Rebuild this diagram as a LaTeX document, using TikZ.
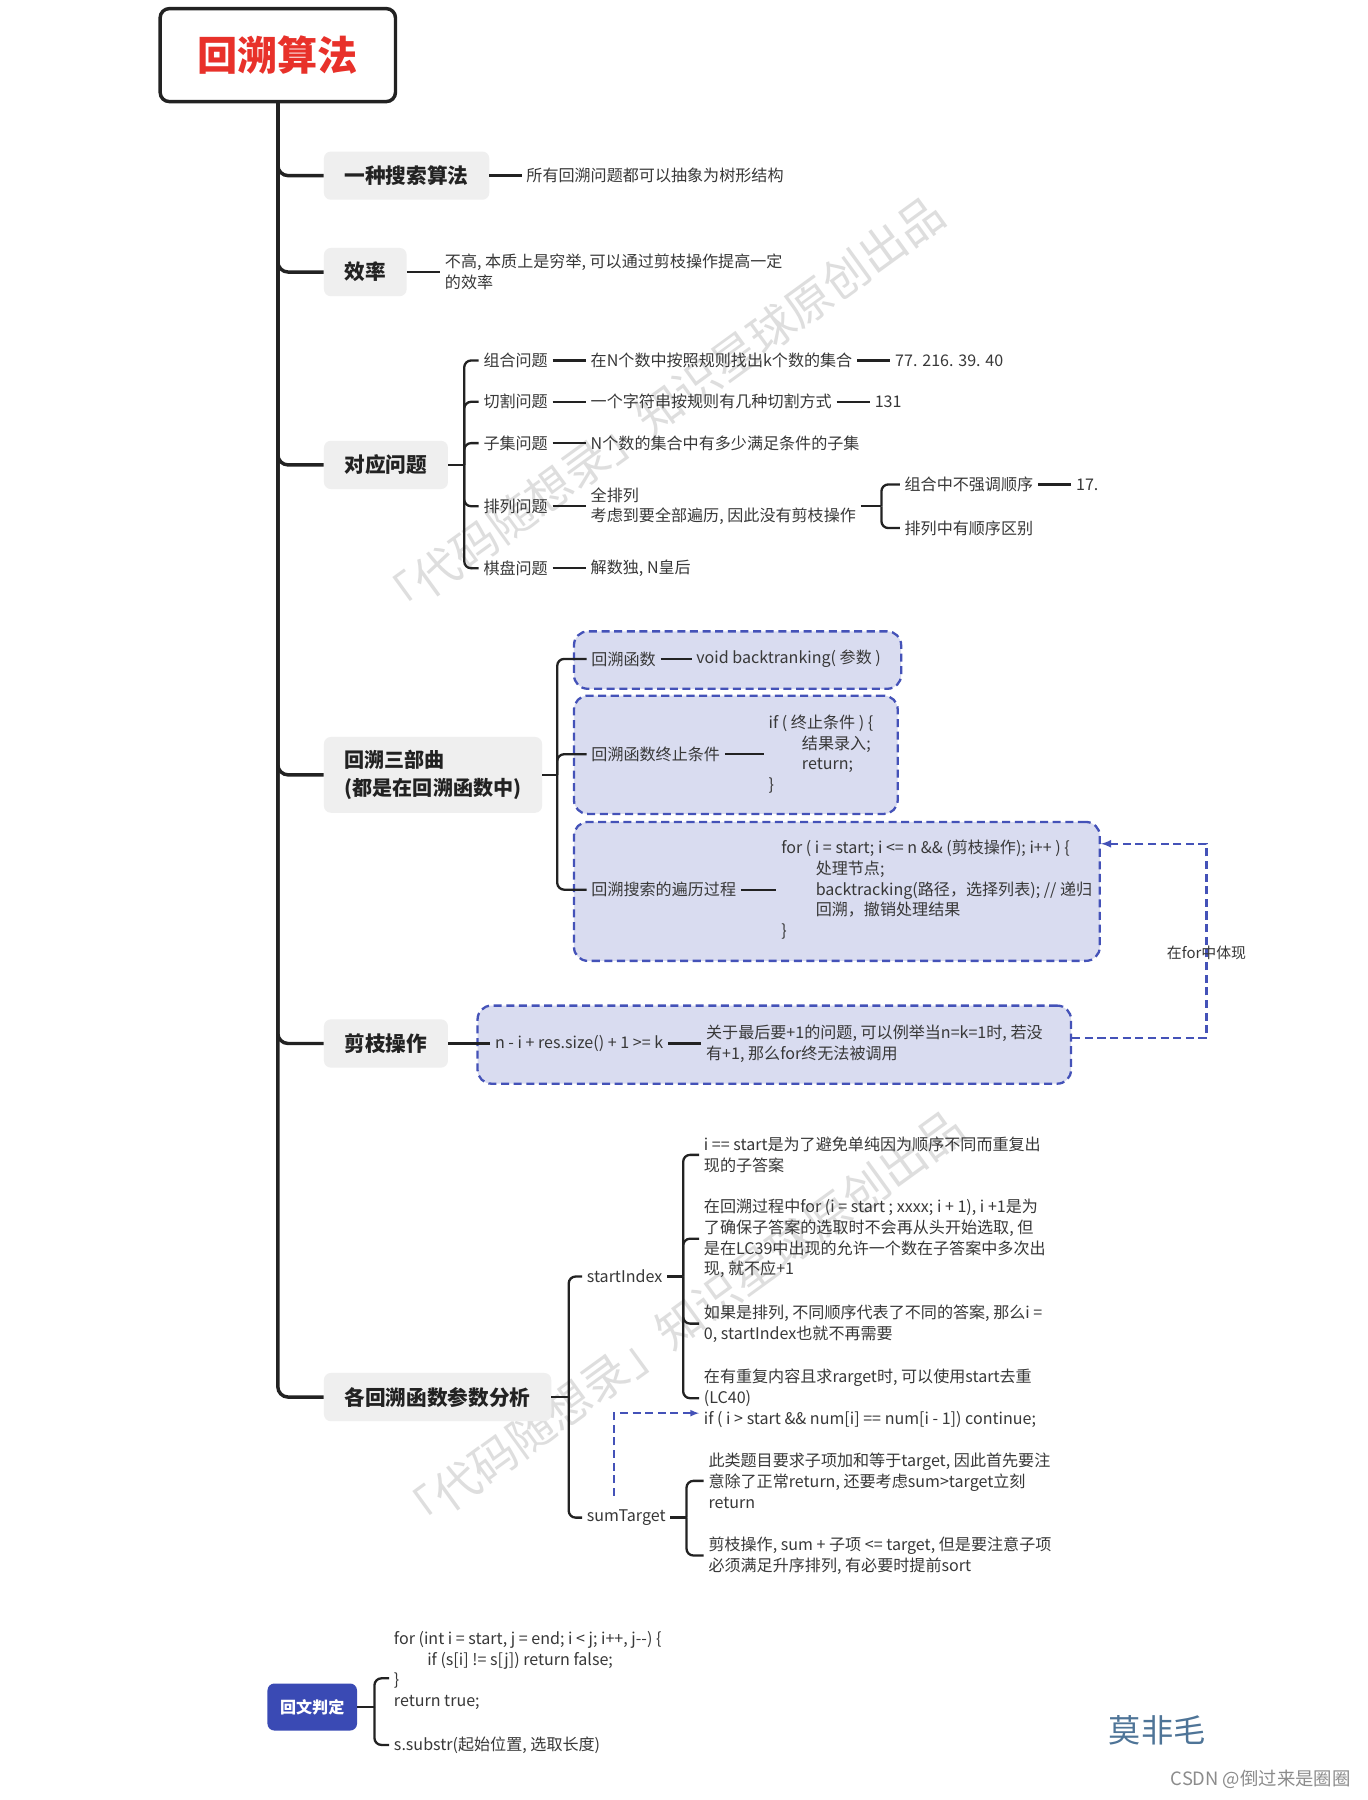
\documentclass[tikz,border=0pt]{standalone}
\usepackage{fontspec}
\setmainfont{Noto Sans CJK SC}
\tikzset{>=latex}
\usetikzlibrary{positioning}
\definecolor{titlered}{HTML}{E8312A}
\definecolor{boxgray}{HTML}{EFEFEF}
\definecolor{dashblue}{HTML}{4452B8}
\definecolor{dashfill}{HTML}{D9DCF0}
\definecolor{navyfill}{HTML}{3A4AB4}
\definecolor{signblue}{HTML}{4E7497}
\definecolor{inkgray}{HTML}{222222}
\tikzset{
  topic/.style={fill=boxgray, rounded corners=6pt, minimum height=42pt, inner xsep=18pt, anchor=west, font=\fontsize{18}{22}\selectfont\bfseries, text=inkgray},
  leaf/.style={inner xsep=4pt, inner ysep=2pt, anchor=west, align=left, font=\fontsize{14}{18}\selectfont, text=inkgray!90},
  trunk/.style={line width=3pt, draw=inkgray, rounded corners=9pt},
  twig/.style={line width=2pt, draw=inkgray, rounded corners=6pt},
  link/.style={line width=2pt, draw=inkgray},
  dashbox/.style={draw=dashblue, fill=dashfill, line width=2pt, dash pattern=on 7pt off 4pt, rounded corners=12pt, anchor=north west},
  feedback/.style={draw=dashblue, line width=2pt, dash pattern=on 7pt off 4pt},
  watermark/.style={text=black!13, font=\fontsize{40}{46}\selectfont, rotate=36}
}
\begin{document}
\begin{tikzpicture}[x=1pt, y=-1pt]
\useasboundingbox (0,0) rectangle (1191,1568);
\fill[white] (0,0) rectangle (1191,1568);
\node[watermark] (w1) at (575,357) {「代码随想录」知识星球原创出品};
\node[watermark] (w2) at (592,1153) {「代码随想录」知识星球原创出品};

\node[draw=inkgray, line width=3pt, rounded corners=8pt, minimum width=205pt, minimum height=81pt, font=\fontsize{35}{40}\selectfont\bfseries, text=titlered] (n0) at (242,48) {回溯算法};
\node[topic] (n1) at (282,153) {一种搜索算法};
\node[topic] (n2) at (282,237) {效率};
\node[topic] (n3) at (282,405) {对应问题};
\node[topic, align=left, minimum height=66pt, font=\fontsize{17.5}{24}\selectfont\bfseries] (n4) at (282,675) {回溯三部曲\\(都是在回溯函数中)};
\node[topic] (n5) at (282,909) {剪枝操作};
\node[topic] (n6) at (282,1217) {各回溯函数参数分析};
\draw[trunk] (n0.south) |- (n6.west);
\draw[trunk] (n0.south) |- (n1.west);
\draw[trunk] (n0.south) |- (n2.west);
\draw[trunk] (n0.south) |- (n3.west);
\draw[trunk] (n0.south) |- (n4.west);
\draw[trunk] (n0.south) |- (n5.west);

\node[leaf, right=28pt of n1] (n1a) {所有回溯问题都可以抽象为树形结构};
\draw[link] (n1) -- (n1a);
\node[leaf, right=29pt of n2] (n2a) {不高, 本质上是穷举, 可以通过剪枝操作提高一定\\的效率};
\draw[link] (n2) -- (n2a);

\coordinate (aux1) at ([xshift=14pt]n3.east);
\node[leaf] (n3a) at (417,314) {组合问题};
\node[leaf, right=29pt of n3a] (n3b) {在N个数中按照规则找出k个数的集合};
\node[leaf, right=29pt of n3b] (n3c) {77. 216. 39. 40};
\node[leaf] (n3d) at (417,350) {切割问题};
\node[leaf, right=29pt of n3d] (n3e) {一个字符串按规则有几种切割方式};
\node[leaf, right=29pt of n3e] (n3f) {131};
\node[leaf] (n3g) at (417,386) {子集问题};
\node[leaf, right=29pt of n3g] (n3h) {N个数的集合中有多少满足条件的子集};
\node[leaf] (n3i) at (417,441) {排列问题};
\node[leaf, right=29pt of n3i] (n3j) {全排列\\考虑到要全部遍历, 因此没有剪枝操作};
\coordinate (aux2) at ([xshift=18pt]n3j.east);
\node[leaf] (n3k) at ([xshift=34pt,yshift=19pt]n3j.east) {组合中不强调顺序};
\node[leaf, right=29pt of n3k] (n3l) {17.};
\node[leaf] (n3m) at ([xshift=34pt,yshift=-19pt]n3j.east) {排列中有顺序区别};
\node[leaf] (n3n) at (417,495) {棋盘问题};
\node[leaf, right=29pt of n3n] (n3o) {解数独, N皇后};
\draw[twig] (n3.east) -- (aux1);
\draw[twig] (aux1) |- (n3a.west);
\draw[twig] (aux1) |- (n3d.west);
\draw[twig] (aux1) |- (n3g.west);
\draw[twig] (aux1) |- (n3i.west);
\draw[twig] (aux1) |- (n3n.west);
\draw[link] (n3a) -- (n3b);
\draw[link] (n3b) -- (n3c);
\draw[link] (n3d) -- (n3e);
\draw[link] (n3e) -- (n3f);
\draw[link] (n3g) -- (n3h);
\draw[link] (n3i) -- (n3j);
\draw[twig] (n3j.east) -- (aux2);
\draw[twig] (aux2) |- (n3k.west);
\draw[twig] (aux2) |- (n3m.west);
\draw[link] (n3k) -- (n3l);
\draw[link] (n3n) -- (n3o);

\node[dashbox, minimum width=285pt, minimum height=50pt] (b1) at (499,549) {};
\node[dashbox, minimum width=282pt, minimum height=103pt] (b2) at (499,605) {};
\node[dashbox, minimum width=458pt, minimum height=121pt] (b3) at (499,715) {};
\coordinate (aux3) at ([xshift=13pt]n4.east);
\node[leaf] (n4a) at (511,574) {回溯函数};
\node[leaf, right=27pt of n4a] (n4b) {void backtranking( 参数 )};
\node[leaf] (n4c) at (511,657) {回溯函数终止条件};
\node[leaf, right=34pt of n4c] (n4d) {if ( 终止条件 ) \{\\\hspace*{29pt}结果录入;\\\hspace*{29pt}return;\\\}};
\node[leaf] (n4e) at (511,775) {回溯搜索的遍历过程};
\node[leaf, right=31pt of n4e] (n4f) {for ( i = start; i <= n \&\& (剪枝操作); i++ ) \{\\\hspace*{30pt}处理节点;\\\hspace*{30pt}backtracking(路径，选择列表); // 递归\\\hspace*{30pt}回溯，撤销处理结果\\\}};
\draw[twig] (n4.east) -- (aux3);
\draw[twig] (aux3) |- (n4a.west);
\draw[twig] (aux3) |- (n4c.west);
\draw[twig] (aux3) |- (n4e.west);
\draw[link] (n4a) -- (n4b);
\draw[link] (n4c) -- (n4d);
\draw[link] (n4e) -- (n4f);

\node[dashbox, minimum width=517pt, minimum height=68pt] (b4) at (415,875) {};
\node[leaf] (n5a) at (427,909) {n - i + res.size() + 1 >= k};
\node[leaf, right=29pt of n5a] (n5b) {关于最后要+1的问题, 可以例举当n=k=1时, 若没\\有+1, 那么for终无法被调用};
\draw[link] (n5) -- (n5a);
\draw[link] (n5a) -- (n5b);
\coordinate (aux4) at (1051,735);
\draw[feedback, ->] ([yshift=6pt]b4.east) -| node[pos=0.72, leaf, anchor=center, font=\fontsize{13}{16}\selectfont] {在for中体现} (aux4) -- (aux4 -| b3.east);

\coordinate (aux5) at ([xshift=15pt]n6.east);
\node[leaf] (n6a) at (507,1112) {startIndex};
\node[leaf] (n6b) at (507,1322) {sumTarget};
\coordinate (aux6) at ([xshift=14pt]n6a.east);
\coordinate (aux7) at ([xshift=14pt]n6b.east);
\node[leaf] (n6c) at (609,1006) {i == start是为了避免单纯因为顺序不同而重复出\\现的子答案};
\node[leaf] (n6d) at (609,1079) {在回溯过程中for (i = start ; xxxx; i + 1), i +1是为\\了确保子答案的选取时不会再从头开始选取, 但\\是在LC39中出现的允许一个数在子答案中多次出\\现, 就不应+1};
\node[leaf] (n6e) at (609,1153) {如果是排列, 不同顺序代表了不同的答案, 那么i =\\0, startIndex也就不再需要};
\node[leaf] (n6f) at (609,1218) {在有重复内容且求rarget时, 可以使用start去重\\(LC40)\\if ( i > start \&\& num[i] == num[i - 1]) continue;};
\node[leaf] (n6g) at (613,1290) {此类题目要求子项加和等于target, 因此首先要注\\意除了正常return, 还要考虑sum>target立刻\\return};
\node[leaf] (n6h) at (613,1355) {剪枝操作, sum + 子项 <= target, 但是要注意子项\\必须满足升序排列, 有必要时提前sort};
\draw[twig] (n6.east) -- (aux5);
\draw[twig] (aux5) |- (n6a.west);
\draw[twig] (aux5) |- (n6b.west);
\draw[twig] (n6a.east) -- (aux6);
\draw[twig] (aux6) |- (n6c.west);
\draw[twig] (aux6) |- (n6d.west);
\draw[twig] (aux6) |- (n6e.west);
\draw[twig] (aux6) |- (n6f.west);
\draw[twig] (n6b.east) -- (aux7);
\draw[twig] (aux7) |- (n6g.west);
\draw[twig] (aux7) |- (n6h.west);
\coordinate (aux8) at (535,1303);
\draw[feedback, line width=1.6pt, ->] (aux8) |- ([yshift=-13pt]n6f.west);

\node[fill=navyfill, rounded corners=6pt, minimum width=78pt, minimum height=41pt, text=white, font=\fontsize{14}{18}\selectfont\bfseries] (n7) at (272,1487) {回文判定};
\coordinate (aux9) at ([xshift=15pt]n7.east);
\node[leaf] (n7a) at (339,1455) {for (int i = start, j = end; i < j; i++, j-{}-) \{\\\hspace*{29pt}if (s[i] != s[j]) return false;\\\}\\return true;};
\node[leaf] (n7b) at (339,1520) {s.substr(起始位置, 选取长度)};
\draw[twig] (n7.east) -- (aux9);
\draw[twig] (aux9) |- ([yshift=-7pt]n7a.west);
\draw[twig] (aux9) |- (n7b.west);

\node[text=signblue, font=\fontsize{28}{32}\selectfont] (s1) at (1008,1507) {莫非毛};
\node[text=black!45, font=\fontsize{16}{20}\selectfont, anchor=east] (s2) at (1180,1550) {CSDN @倒过来是圈圈};
\end{tikzpicture}
\end{document}
